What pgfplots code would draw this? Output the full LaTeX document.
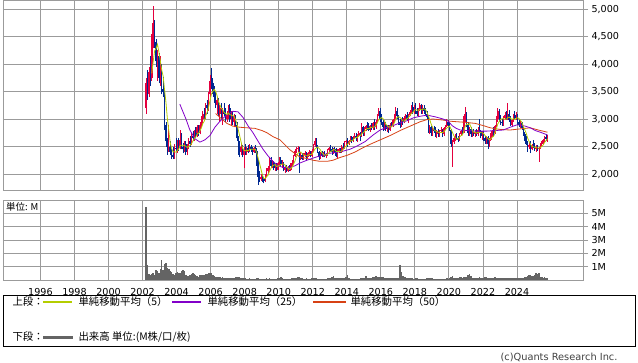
\documentclass[border=0pt]{standalone}
\usepackage{fontspec}
\setmainfont{DejaVu Sans}
\newfontfamily\jp{Noto Sans CJK JP}
\usepackage{pgfplots}
\usepackage{pgfplotstable}
\pgfplotsset{compat=1.18}

\definecolor{upcol}{RGB}{228,0,62}
\definecolor{dncol}{RGB}{0,40,145}
\definecolor{ma5col}{RGB}{180,205,0}
\definecolor{ma25col}{RGB}{130,0,200}
\definecolor{ma50col}{RGB}{215,65,20}
\definecolor{volcol}{RGB}{100,100,100}
\definecolor{gridcol}{RGB}{155,155,155}

\pgfplotstableread{
o h l c v ma5
3200 3750 3100 3650 5.5 nan
3650 3900 3350 3450 1.1 nan
3450 3950 3400 3850 0.45 nan
3850 4150 3600 3750 0.4 nan
3750 4550 3700 4450 0.45 3830
4450 5050 4300 4750 0.5 4050
4750 4800 4300 4400 0.4 4240
4400 4450 3950 4050 0.75 4280
4050 4250 3700 4150 0.7 4360
4150 4200 3650 3750 0.55 4220
3750 4150 3600 3950 0.8 4060
3950 4000 3450 3550 1.5 3890
3550 3760 3400 3500 0.75 3780
3500 3550 2800 2900 1.2 3530
2900 2950 2500 2600 1.25 3300
2600 2650 2350 2450 0.9 3000
2450 2900 2400 2500 0.8 2790
2500 2600 2350 2400 0.65 2570
2400 2450 2280 2350 0.6 2460
2350 2500 2270 2300 0.45 2400
2300 2550 2280 2480 0.4 2406
2480 2650 2400 2450 0.5 2396
2450 2620 2380 2560 0.6 2428
2560 2650 2420 2480 0.55 2454
2480 2800 2450 2620 0.5 2518
2620 2750 2450 2500 0.7 2522
2500 2560 2380 2450 0.75 2522
2450 2600 2400 2550 0.7 2520
2550 2600 2350 2400 0.35 2504
2400 2550 2340 2500 0.3 2480
2500 2650 2450 2600 0.3 2500
2600 2700 2500 2550 0.35 2520
2550 2750 2520 2700 0.45 2550
2700 2780 2600 2650 0.5 2600
2650 2800 2600 2750 0.45 2650
2750 2850 2650 2700 0.35 2670
2700 2900 2680 2850 0.3 2730
2850 2900 2700 2750 0.25 2740
2750 2950 2720 2900 0.35 2790
2900 3050 2850 3000 0.4 2840
3000 3150 2900 3100 0.35 2920
3100 3200 3000 3050 0.4 2960
3050 3300 3000 3250 0.45 3060
3250 3350 3100 3200 0.45 3120
3200 3500 3150 3450 0.5 3210
3450 3800 3400 3700 0.55 3330
3700 3930 3550 3650 0.5 3450
3650 3750 3450 3500 0.35 3500
3500 3600 3300 3400 0.3 3540
3400 3500 3200 3250 0.25 3500
3250 3400 3100 3350 0.25 3430
3350 3380 3050 3100 0.2 3320
3100 3250 2950 3200 0.2 3260
3200 3300 3000 3050 0.18 3190
3050 3200 2900 3150 0.2 3170
3150 3300 3050 3100 0.17 3120
3100 3200 2950 3000 0.15 3100
3000 3150 2950 3100 0.17 3080
3100 3250 3000 3200 0.18 3110
3200 3280 2950 3000 0.15 3080
3000 3150 2900 3050 0.15 3070
3050 3150 2900 2950 0.17 3060
2950 3100 2850 3050 0.15 3050
3050 3080 2850 2900 0.2 2990
2900 2950 2600 2650 0.25 2920
2650 2700 2350 2450 0.25 2800
2450 2600 2300 2400 0.2 2690
2400 2550 2350 2500 0.15 2580
2500 2520 2300 2350 0.12 2470
2350 2500 2100 2450 0.15 2430
2450 2550 2350 2400 0.12 2420
2400 2500 2350 2480 0.1 2436
2480 2520 2380 2420 0.1 2420
2420 2550 2400 2500 0.12 2450
2500 2530 2400 2450 0.1 2450
2450 2500 2350 2400 0.1 2450
2400 2500 2380 2480 0.1 2450
2480 2520 2380 2420 0.1 2450
2420 2470 2150 2200 0.12 2390
2200 2250 1800 1950 0.15 2290
1950 2050 1850 1900 0.1 2190
1900 2000 1880 1950 0.1 2084
1950 2000 1850 1900 0.1 1980
1900 1950 1830 1880 0.1 1916
1880 2000 1850 1970 0.1 1920
1970 2100 1950 2050 0.12 1950
2050 2150 2000 2100 0.1 1980
2100 2300 2050 2250 0.12 2050
2250 2310 2100 2150 0.1 2104
2150 2250 2100 2200 0.1 2150
2200 2230 2080 2100 0.1 2160
2100 2180 2050 2150 0.1 2170
2150 2200 2050 2080 0.1 2136
2080 2220 2070 2200 0.12 2146
2200 2300 2150 2250 0.15 2156
2250 2310 2150 2180 0.2 2172
2180 2250 2100 2200 0.12 2182
2200 2220 2050 2080 0.1 2182
2080 2150 2020 2100 0.1 2162
2100 2160 2030 2050 0.1 2122
2050 2150 2040 2120 0.1 2110
2120 2160 2050 2070 0.1 2084
2070 2200 2050 2180 0.1 2104
2180 2250 2150 2200 0.12 2124
2200 2350 2180 2330 0.12 2180
2330 2450 2300 2420 0.15 2240
2420 2500 2380 2450 0.15 2316
2450 2510 2400 2480 0.2 2376
2480 2500 2020 2300 0.22 2396
2300 2400 2250 2350 0.15 2400
2350 2380 2250 2280 0.12 2372
2280 2380 2260 2350 0.1 2352
2350 2420 2300 2380 0.1 2332
2380 2400 2250 2300 0.12 2332
2300 2380 2280 2350 0.1 2332
2350 2440 2320 2400 0.1 2356
2400 2420 2300 2330 0.1 2352
2330 2450 2310 2420 0.12 2360
2420 2550 2400 2520 0.18 2404
2520 2650 2500 2600 0.15 2454
2600 2650 2480 2500 0.12 2474
2500 2520 2380 2400 0.1 2488
2400 2420 2250 2300 0.1 2464
2300 2400 2280 2380 0.1 2436
2380 2420 2300 2330 0.1 2382
2330 2400 2300 2370 0.1 2356
2370 2420 2300 2320 0.1 2340
2320 2380 2290 2350 0.1 2350
2350 2450 2330 2430 0.12 2360
2430 2500 2400 2480 0.12 2390
2480 2520 2400 2450 0.15 2406
2450 2500 2350 2400 0.2 2422
2400 2480 2360 2460 0.3 2444
2460 2500 2380 2420 0.15 2442
2420 2470 2300 2330 0.13 2412
2330 2450 2290 2420 0.12 2406
2420 2480 2380 2450 0.12 2416
2450 2480 2380 2400 0.12 2404
2400 2530 2390 2500 0.13 2420
2500 2560 2450 2480 0.12 2450
2480 2600 2460 2580 0.15 2482
2580 2620 2520 2600 0.2 2512
2600 2650 2500 2550 0.37 2542
2550 2620 2520 2600 0.12 2562
2600 2700 2580 2680 0.1 2602
2680 2700 2560 2600 0.1 2606
2600 2700 2580 2680 0.1 2622
2680 2740 2640 2700 0.1 2652
2700 2750 2600 2650 0.1 2662
2650 2720 2580 2700 0.1 2666
2700 2780 2680 2750 0.1 2696
2750 2760 2600 2700 0.12 2700
2700 2930 2680 2850 0.15 2730
2850 2880 2700 2750 0.12 2750
2750 2850 2700 2820 0.15 2774
2820 2900 2780 2880 0.3 2800
2880 2950 2800 2850 0.15 2830
2850 2920 2780 2800 0.12 2820
2800 2900 2760 2880 0.12 2846
2880 2920 2800 2830 0.12 2848
2830 2950 2800 2920 0.2 2856
2920 3000 2800 2850 0.2 2856
2850 2980 2820 2950 0.3 2886
2950 3100 2920 3080 0.2 2926
3080 3200 3050 3150 0.2 2990
3150 3200 2950 3000 0.25 3006
3000 3100 2900 2950 0.2 3026
2950 3000 2780 2850 0.2 3006
2850 2950 2800 2900 0.15 2970
2900 2950 2780 2820 0.15 2904
2820 2900 2760 2880 0.12 2880
2880 2900 2750 2800 0.12 2850
2800 2920 2780 2900 0.12 2860
2900 2950 2850 2880 0.12 2856
2880 3000 2860 2980 0.15 2888
2980 3100 2950 3080 0.15 2928
3080 3220 3000 3150 0.15 2998
3150 3200 3000 3050 0.12 3028
3050 3080 2900 2950 0.15 3042
2950 3000 2840 2900 1.15 3026
2900 3000 2860 2980 0.6 3006
2980 3030 2900 2950 0.3 2966
2950 3050 2920 3020 0.25 2960
3020 3100 2980 3080 0.2 2986
3080 3120 2980 3000 0.12 3006
3000 3100 2930 3080 0.12 3026
3080 3160 3050 3130 0.12 3062
3130 3250 3100 3220 0.12 3102
3220 3310 3100 3150 0.12 3116
3150 3250 3100 3200 0.1 3156
3200 3300 3100 3150 0.12 3170
3150 3200 3050 3100 0.12 3164
3100 3200 3040 3180 0.1 3156
3180 3290 3150 3250 0.1 3176
3250 3280 3100 3150 0.1 3166
3150 3250 3100 3200 0.1 3176
3200 3260 3100 3150 0.1 3186
3150 3200 3050 3100 0.1 3170
3100 3150 3000 3030 0.12 3126
3030 3050 2750 2800 0.15 3056
2800 2900 2720 2850 0.12 2986
2850 2880 2700 2750 0.12 2906
2750 2850 2700 2820 0.12 2850
2820 2880 2750 2780 0.1 2800
2780 2850 2680 2720 0.1 2784
2720 2800 2650 2780 0.1 2770
2780 2820 2680 2700 0.1 2760
2700 2800 2670 2780 0.1 2752
2780 2850 2750 2800 0.1 2756
2800 2820 2680 2720 0.1 2756
2720 2850 2700 2830 0.1 2766
2830 2900 2800 2880 0.1 2802
2880 3000 2850 2950 0.12 2836
2950 2980 2850 2900 0.1 2856
2900 2950 2780 2800 0.12 2872
2800 2820 2500 2550 0.2 2816
2500 2620 2130 2580 0.3 2756
2580 2700 2550 2650 0.15 2696
2650 2720 2600 2700 0.12 2656
2700 2750 2620 2660 0.12 2628
2660 2700 2580 2620 0.12 2642
2620 2750 2600 2730 0.2 2672
2730 2800 2700 2780 0.2 2698
2780 2850 2720 2750 0.15 2708
2750 3050 2740 3000 0.2 2776
3000 3220 2950 3100 0.2 2872
3100 3120 2850 2900 0.2 2906
2900 2950 2700 2750 0.4 2900
2750 2850 2700 2820 0.42 2914
2820 2850 2680 2720 0.3 2858
2720 2800 2670 2780 0.18 2794
2780 2820 2700 2730 0.15 2760
2730 2800 2680 2760 0.15 2762
2760 2820 2700 2720 0.15 2742
2720 2850 2700 2800 0.18 2758
2800 3000 2750 2780 0.2 2758
2780 2800 2650 2700 0.15 2752
2700 2780 2620 2750 0.15 2750
2750 2780 2600 2650 0.15 2736
2650 2700 2550 2600 0.25 2696
2600 2700 2540 2680 0.25 2676
2680 2700 2450 2550 0.18 2646
2550 2650 2500 2620 0.15 2620
2620 2750 2600 2720 0.15 2634
2720 2800 2680 2780 0.15 2670
2780 2850 2700 2750 0.15 2684
2750 2900 2730 2880 0.25 2750
2880 3050 2850 3000 0.15 2826
3000 3200 2950 3150 0.15 2912
3150 3180 2950 3000 0.12 2956
3000 3080 2900 2950 0.12 2996
2950 3000 2880 2920 0.12 3004
2920 3050 2880 3020 0.15 3008
3020 3120 2980 3080 0.12 2994
3080 3150 2980 3000 0.12 2994
3000 3290 2980 3100 0.15 3024
3100 3160 2950 2980 0.12 3036
2980 3050 2880 2900 0.12 3012
2900 3000 2850 2980 0.12 2992
2980 3100 2950 3080 0.15 3008
3080 3150 3000 3020 0.12 2992
3020 3120 2980 3080 0.12 3012
3080 3100 2900 2950 0.12 3022
2950 3000 2850 2900 0.12 3006
2900 2960 2840 2920 0.12 2974
2920 2950 2800 2830 0.12 2936
2830 2850 2700 2720 0.15 2864
2720 2760 2600 2650 0.2 2804
2650 2700 2520 2550 0.25 2740
2550 2600 2400 2500 0.3 2656
2500 2580 2450 2520 0.35 2594
2520 2600 2380 2450 0.35 2540
2450 2550 2430 2520 0.3 2504
2520 2620 2480 2500 0.3 2494
2500 2560 2420 2460 0.35 2486
2460 2530 2400 2480 0.5 2478
2480 2530 2420 2450 0.45 2478
2450 2500 2220 2480 0.5 2470
2480 2560 2460 2540 0.25 2478
2540 2600 2500 2580 0.2 2502
2580 2640 2540 2620 0.18 2530
2620 2700 2580 2680 0.2 2576
2680 2720 2600 2640 0.15 2608
2640 2710 2590 2690 0.15 2638
}\prices

\begin{document}
\begin{tikzpicture}
\path[use as bounding box] (0,0) rectangle (638pt,362pt);
\pgfplotsset{
  base/.style={
    scale only axis, width=580pt,
    xmin=1993.80, xmax=2027.88,
    xtick={1996,1998,...,2024},
    grid=major, major grid style={gridcol, line width=0.8pt},
    axis line style={gridcol, line width=0.8pt},
    tick align=outside, major tick length=5pt,
    ytick pos=right, yticklabel pos=right,
    xtick style={draw=none},
    ytick style={gridcol, line width=0.8pt},
    tick label style={font=\fontsize{9.6}{11}\selectfont},
    /pgf/number format/assume math mode=true,
  },
  candle/.style 2 args={draw=none, no markers, forget plot,
    error bars/.cd, y dir=plus, y explicit, error mark=none,
    error bar style={draw=#1, line width=#2}},
}
% ---------- price panel ----------
\begin{axis}[base, at={(3pt,172pt)}, anchor=south west, height=189.5pt,
  ymin=1709, ymax=5155, ytick={2000,2500,...,5000},
  xticklabels={},
  yticklabel style={/pgf/number format/.cd, 1000 sep={,}},
]
% wicks
\addplot[restrict expr to domain={\thisrow{c}-\thisrow{o}}{0:100000}, candle={upcol}{0.75pt}]
  table[x expr=2002.21+\coordindex/12, y=l, y error plus expr=\thisrow{h}-\thisrow{l}] {\prices};
\addplot[restrict expr to domain={\thisrow{c}-\thisrow{o}}{-100000:-1}, candle={dncol}{0.75pt}]
  table[x expr=2002.21+\coordindex/12, y=l, y error plus expr=\thisrow{h}-\thisrow{l}] {\prices};
% bodies
\addplot[restrict expr to domain={\thisrow{c}-\thisrow{o}}{0:100000}, candle={upcol}{1.5pt}]
  table[x expr=2002.21+\coordindex/12, y=o, y error plus expr=\thisrow{c}-\thisrow{o}] {\prices};
\addplot[restrict expr to domain={\thisrow{c}-\thisrow{o}}{-100000:-1}, candle={dncol}{1.5pt}]
  table[x expr=2002.21+\coordindex/12, y=c, y error plus expr=\thisrow{o}-\thisrow{c}] {\prices};
% moving averages
\addplot[ma50col, line width=0.8pt] coordinates {
(2006.29,3100) (2006.66,3000) (2006.96,2920) (2007.31,2870) (2007.72,2850)
(2008.13,2840) (2008.6,2830) (2009.02,2790) (2009.31,2750) (2009.66,2680)
(2010.08,2620) (2010.37,2530) (2010.66,2440) (2010.96,2370) (2011.25,2310)
(2011.66,2280) (2012.02,2250) (2012.43,2230) (2012.84,2230) (2013.19,2250)
(2013.6,2300) (2014.02,2340) (2014.49,2400) (2014.9,2470) (2015.37,2540)
(2015.96,2620) (2016.55,2700) (2017.13,2790) (2017.72,2870) (2018.31,2950)
(2018.72,2990) (2019.07,3000) (2019.66,2980) (2020.07,2960) (2020.49,2950)
(2020.96,2940) (2021.55,2920) (2022.02,2880) (2022.43,2840) (2023.02,2810)
(2023.6,2800) (2024.19,2820) (2024.78,2840) (2025.25,2800) (2025.79,2760)
};
\addplot[ma25col, line width=0.8pt] coordinates {
(2004.19,3270) (2004.55,3000) (2004.78,2800) (2005.08,2640) (2005.37,2580)
(2005.66,2620) (2005.96,2700) (2006.25,2850) (2006.55,2960) (2006.96,3080)
(2007.31,3140) (2007.61,3130) (2007.9,3030) (2008.19,2880) (2008.49,2750)
(2008.78,2600) (2009.08,2450) (2009.37,2330) (2009.66,2230) (2009.96,2150)
(2010.25,2120) (2010.66,2120) (2010.96,2150) (2011.25,2200) (2011.66,2250)
(2012.02,2290) (2012.43,2330) (2012.84,2370) (2013.31,2390) (2013.72,2410)
(2014.19,2450) (2014.61,2510) (2015.08,2590) (2015.55,2710) (2015.96,2800)
(2016.37,2850) (2016.72,2880) (2017.13,2930) (2017.55,2970) (2017.9,3020)
(2018.31,3050) (2018.72,3070) (2019.19,3040) (2019.66,3000) (2019.96,2960)
(2020.19,2880) (2020.43,2830) (2020.66,2800) (2021.08,2790) (2021.55,2780)
(2022.25,2780) (2022.72,2790) (2023.19,2800) (2023.6,2850) (2023.96,2890)
(2024.19,2890) (2024.49,2870) (2024.78,2840) (2025.08,2790) (2025.37,2760)
(2025.79,2710)
};
\addplot[ma5col, line width=0.8pt] table[x expr=2002.21+\coordindex/12, y=ma5] {\prices};
\end{axis}
% ---------- volume panel ----------
\begin{axis}[base, at={(3pt,82pt)}, anchor=south west, height=80pt,
  ymin=0, ymax=6, ytick={1,2,3,4,5}, yticklabels={1M,2M,3M,4M,5M},
  xticklabels={1996,1998,2000,2002,2004,2006,2008,2010,2012,2014,2016,2018,2020,2022,2024},
]
\addplot[ycomb, draw=volcol, line width=1.45pt] table[x expr=2002.21+\coordindex/12, y=v] {\prices};
\end{axis}
\node[anchor=north west, inner sep=0pt, font=\jp\fontsize{9.5}{10}\selectfont] at (6pt,159.5pt) {単位: M};
% ---------- legend box ----------
\draw[black, line width=0.9pt] (3pt,16pt) rectangle (635pt,67pt);
\begin{scope}[every node/.style={anchor=west, font=\jp\fontsize{10.4}{11}\selectfont}]
\node at (9pt,60pt) {上段：};
\draw[ma5col, line width=1.2pt] (43pt,60pt) -- (72pt,60pt);
\node at (75pt,60pt) {単純移動平均（5）};
\draw[ma25col, line width=1.2pt] (172pt,60pt) -- (201pt,60pt);
\node at (204pt,60pt) {単純移動平均（25）};
\draw[ma50col, line width=1.2pt] (313pt,60pt) -- (346pt,60pt);
\node at (347pt,60pt) {単純移動平均（50）};
\node at (9pt,25pt) {下段：};
\draw[volcol, line width=3pt] (43pt,25pt) -- (73pt,25pt);
\node at (75pt,25pt) {出来高 単位:(M株/口/枚)};
\end{scope}
\node[anchor=east, font=\fontsize{9.8}{11}\selectfont, text=black!75] at (621pt,5pt) {(c)Quants Research Inc.};
\end{tikzpicture}
\end{document}
